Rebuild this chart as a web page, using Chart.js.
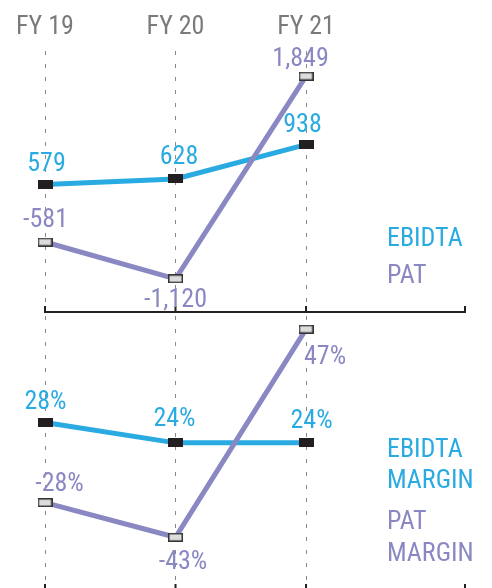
<!DOCTYPE html>
<html>
<head>
<meta charset="utf-8">
<title>EBIDTA / PAT</title>
<script src="https://cdn.jsdelivr.net/npm/chart.js@4.4.1/dist/chart.umd.min.js"></script>
<style>
    html, body { margin: 0; padding: 0; background: #fff; overflow: hidden; }
    #wrap { position: relative; width: 492px; height: 588px; overflow: hidden; }
    #topChart { position: absolute; left: 0; top: 0; }
    #bottomChart { position: absolute; left: 0; top: 312px; }
</style>
</head>
<body>
<div id="wrap">
    <canvas id="topChart" width="492" height="316"></canvas>
    <canvas id="bottomChart" width="492" height="290"></canvas>
</div>
<script>
/* DATOS */
const years = ['FY 19', 'FY 20', 'FY 21'];
const ebidta = [579, 628, 938];
const pat = [-581, -1120, 1849];
const ebidtaMargin = [28, 24, 24];
const patMargin = [-28, -43, 47];

const BLUE = '#29abe2';
const PURPLE = '#8a88c2';
const FONT = '"Liberation Sans Narrow", "Roboto Condensed", "DejaVu Sans Condensed", sans-serif';
const FONT_SIZE = 26;
const X_MAX = 3.218; // el eje se alarga a la derecha, hasta la leyenda

// marcadores rectangulares (canvas como pointStyle)
function makeMarker(fill, stroke) {
    const c = document.createElement('canvas');
    c.width = 15;
    c.height = 9;
    const g = c.getContext('2d');
    g.fillStyle = fill;
    g.fillRect(0, 0, 15, 9);
    if (stroke) {
        g.strokeStyle = stroke;
        g.lineWidth = 1.5;
        g.strokeRect(0.75, 0.75, 13.5, 7.5);
    }
    return c;
}
const darkMarker = makeMarker('#231f20');
const lightMarker = makeMarker('#dcdcdc', '#333');

const toPoints = arr => arr.map((v, i) => ({ x: i, y: v }));

// etiquetas de valor junto a cada punto
const valueLabels = {
    id: 'valueLabels',
    afterDatasetsDraw(chart, args, opts) {
        const ctx = chart.ctx;
        chart.data.datasets.forEach((ds, di) => {
            const meta = chart.getDatasetMeta(di);
            meta.data.forEach((pt, i) => {
                const off = ds.labelOffsets[i];
                ctx.save();
                ctx.font = FONT_SIZE + 'px ' + FONT;
                ctx.fillStyle = ds.borderColor;
                ctx.textAlign = 'center';
                ctx.textBaseline = 'alphabetic';
                ctx.fillText(opts.format(ds.data[i].y), pt.x + off[0], pt.y + off[1]);
                ctx.restore();
            });
        });
    }
};

// linea base del panel con marcas hacia arriba
const baseAxis = {
    id: 'baseAxis',
    beforeDatasetsDraw(chart) {
        const ctx = chart.ctx;
        const xs = chart.scales.x;
        const y = chart.chartArea.bottom;
        const stops = [0, 1, 2, X_MAX].map(v => xs.getPixelForValue(v));
        ctx.save();
        ctx.strokeStyle = '#231f20';
        ctx.lineWidth = 2;
        ctx.lineCap = 'square';
        ctx.beginPath();
        ctx.moveTo(stops[0], y);
        ctx.lineTo(stops[3], y);
        stops.forEach(px => {
            ctx.moveTo(px, y);
            ctx.lineTo(px, y - 5);
        });
        ctx.stroke();
        ctx.restore();
    }
};

// leyenda de texto a la derecha
const sideLegend = {
    id: 'sideLegend',
    afterDraw(chart, args, opts) {
        const ctx = chart.ctx;
        ctx.save();
        ctx.font = FONT_SIZE + 'px ' + FONT;
        ctx.textAlign = 'left';
        ctx.textBaseline = 'alphabetic';
        chart.data.datasets.forEach((ds, di) => {
            ctx.fillStyle = ds.borderColor;
            ds.label.split('\n').forEach((line, li) => {
                ctx.fillText(line, opts.x, opts.lines[di][li]);
            });
        });
        ctx.restore();
    }
};

function xAxis(showLabels) {
    return {
        type: 'linear',
        position: 'top',
        min: 0,
        max: X_MAX,
        afterBuildTicks: s => { s.ticks = years.map((_, i) => ({ value: i })); },
        ticks: {
            display: showLabels,
            callback: v => years[v],
            color: '#7a7a7a',
            font: { family: FONT, size: FONT_SIZE, lineHeight: 1 },
            padding: 11,
            maxRotation: 0,
            autoSkip: false
        },
        grid: { color: '#8a8a8a', lineWidth: 1, drawTicks: false },
        border: { display: false, dash: [4, 9] }
    };
}

function lineSet(label, values, color, marker, axis, offsets) {
    return {
        label: label,
        data: toPoints(values),
        yAxisID: axis,
        borderColor: color,
        borderWidth: 5,
        tension: 0,
        pointStyle: marker,
        pointRadius: 7,
        pointHoverRadius: 7,
        clip: false,
        labelOffsets: offsets
    };
}

/* PANEL SUPERIOR: EBIDTA y PAT */
var canvasTop = document.getElementById('topChart');
if (canvasTop) {
    new Chart(canvasTop.getContext('2d'), {
        type: 'line',
        data: {
            datasets: [
                lineSet('PAT', pat, PURPLE, lightMarker, 'yPat', [[0.5, -15], [0, 28], [-5.5, -10]]),
                lineSet('EBIDTA', ebidta, BLUE, darkMarker, 'yEbidta', [[1.5, -13], [3.5, -15], [-3.5, -13]])
            ]
        },
        options: {
            responsive: false,
            animation: false,
            layout: { autoPadding: false, padding: { top: 3, left: 45, right: 27, bottom: 4 } },
            plugins: {
                legend: { display: false },
                tooltip: { enabled: false },
                valueLabels: { format: v => v.toLocaleString('en-US') },
                sideLegend: { x: 387, lines: [[283], [246]] }
            },
            scales: {
                x: xAxis(true),
                yEbidta: { display: false, min: -571.5, max: 1782 },
                yPat: { display: false, min: -1606.4, max: 2217.6 }
            }
        },
        plugins: [baseAxis, valueLabels, sideLegend]
    });
}

/* PANEL INFERIOR: MARGENES */
var canvasBottom = document.getElementById('bottomChart');
if (canvasBottom) {
    new Chart(canvasBottom.getContext('2d'), {
        type: 'line',
        data: {
            datasets: [
                lineSet('PAT\nMARGIN', patMargin, PURPLE, lightMarker, 'yPatM', [[14.5, -12], [7.5, 32], [19, 35]]),
                lineSet('EBIDTA\nMARGIN', ebidtaMargin, BLUE, darkMarker, 'yEbidtaM', [[0.5, -14], [-1, -17], [5.5, -15]])
            ]
        },
        options: {
            responsive: false,
            animation: false,
            layout: { autoPadding: false, padding: { top: 4, left: 45, right: 27, bottom: 12 } },
            plugins: {
                legend: { display: false },
                tooltip: { enabled: false },
                valueLabels: { format: v => v + '%' },
                sideLegend: { x: 387, lines: [[217, 249], [145, 176]] }
            },
            scales: {
                x: xAxis(false),
                yEbidtaM: { display: false, min: -5, max: 49 },
                yPatM: { display: false, min: -65.8, max: 52.7 }
            }
        },
        plugins: [baseAxis, valueLabels, sideLegend]
    });
}
</script>
</body>
</html>
